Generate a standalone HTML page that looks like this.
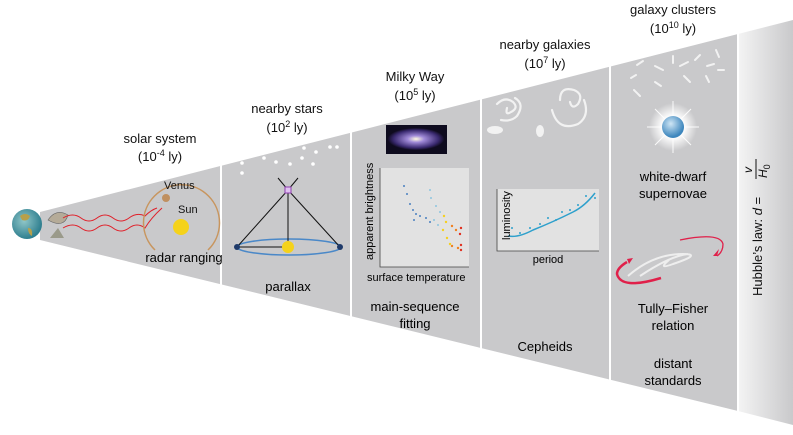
<!DOCTYPE html>
<html><head><meta charset="utf-8"><style>
html,body{margin:0;padding:0;background:#fff;}
svg{display:block;font-family:"Liberation Sans",Arial,sans-serif;}
</style></head><body>
<svg width="793" height="435" viewBox="0 0 793 435" xmlns="http://www.w3.org/2000/svg">
<defs>
<linearGradient id="hg" x1="0" x2="1" y1="0" y2="0"><stop offset="0" stop-color="#f4f4f4"/><stop offset="1" stop-color="#c9c9cb"/></linearGradient>
<radialGradient id="earth" cx="0.4" cy="0.4" r="0.6"><stop offset="0" stop-color="#8fc6c8"/><stop offset="1" stop-color="#2f7f8f"/></radialGradient>
<radialGradient id="sn" cx="0.5" cy="0.5" r="0.5"><stop offset="0" stop-color="#fff"/><stop offset="0.5" stop-color="#fff" stop-opacity="0.9"/><stop offset="1" stop-color="#fff" stop-opacity="0"/></radialGradient>
<radialGradient id="snc" cx="0.4" cy="0.35" r="0.6"><stop offset="0" stop-color="#cfe6f5"/><stop offset="1" stop-color="#3d86bd"/></radialGradient>
<radialGradient id="mw" cx="0.5" cy="0.5" r="0.5"><stop offset="0" stop-color="#fffbe0"/><stop offset="0.3" stop-color="#a08ad8"/><stop offset="0.8" stop-color="#3a2a70"/><stop offset="1" stop-color="#120d25"/></radialGradient>
</defs>
<polygon points="40,212 738,34 738,411 40,240" fill="#c9c9cb"/>
<polygon points="738,34 793,20 793,425 738,411" fill="url(#hg)"/>
<g stroke="#fff" stroke-width="2">
<line x1="221" y1="163" x2="221" y2="286"/>
<line x1="351" y1="130" x2="351" y2="318"/>
<line x1="481" y1="97" x2="481" y2="350"/>
<line x1="610" y1="64" x2="610" y2="382"/>
<line x1="738" y1="33" x2="738" y2="412"/>
</g>
<g font-size="13" text-anchor="middle" fill="#111">
<text x="160" y="143">solar system</text>
<text x="160" y="161">(10<tspan dy="-5" font-size="9">-4</tspan><tspan dy="5"> ly)</tspan></text>
<text x="287" y="113">nearby stars</text>
<text x="287" y="132">(10<tspan dy="-5" font-size="9">2</tspan><tspan dy="5"> ly)</tspan></text>
<text x="415" y="81">Milky Way</text>
<text x="415" y="100">(10<tspan dy="-5" font-size="9">5</tspan><tspan dy="5"> ly)</tspan></text>
<text x="545" y="49">nearby galaxies</text>
<text x="545" y="68">(10<tspan dy="-5" font-size="9">7</tspan><tspan dy="5"> ly)</tspan></text>
<text x="673" y="14">galaxy clusters</text>
<text x="673" y="33">(10<tspan dy="-5" font-size="9">10</tspan><tspan dy="5"> ly)</tspan></text>
</g>
<circle cx="27" cy="224" r="15" fill="url(#earth)"/>
<path d="M20,216 q5,-4 10,0 q-2,6 -8,4z M28,228 q5,0 4,8 q-4,-2 -4,-8z" fill="#b7a04a"/>
<path d="M50,238 l8,-10 l6,10z" fill="#9a9a8a"/>
<path d="M48,220 q8,-12 20,-5 q-4,14 -20,5z" fill="#b5ab98" stroke="#666" stroke-width="0.6"/>
<path d="M63,218 q10,-6 18,0 q8,6 16,0 q8,-6 16,0 q8,6 16,0 q8,-6 16,-2 q6,-6 12,-8 M63,228 q10,-6 18,0 q8,6 16,0 q8,-6 16,0 q8,6 16,0 q8,-6 16,0 q6,-10 17,-20" fill="none" stroke="#e0202a" stroke-width="1"/>
<path d="M155,250 A38,38 0 1 1 208,250" fill="none" stroke="#c8955e" stroke-width="1.5"/>
<circle cx="166" cy="198" r="4" fill="#c09060"/>
<circle cx="181" cy="227" r="8" fill="#f5d21a"/>
<g font-size="11" fill="#111"><text x="164" y="189">Venus</text><text x="178" y="213">Sun</text></g>
<text x="184" y="262" font-size="13" text-anchor="middle">radar ranging</text>
<g fill="#fff"><circle cx="242" cy="163" r="1.8"/><circle cx="242" cy="173" r="1.8"/><circle cx="264" cy="158" r="1.8"/><circle cx="276" cy="162" r="1.8"/><circle cx="290" cy="164" r="1.8"/><circle cx="302" cy="158" r="1.8"/><circle cx="304" cy="148" r="1.8"/><circle cx="316" cy="152" r="1.8"/><circle cx="313" cy="164" r="1.8"/><circle cx="330" cy="147" r="1.8"/><circle cx="337" cy="147" r="1.8"/></g>
<ellipse cx="289" cy="247" rx="52" ry="8" fill="none" stroke="#4a88c8" stroke-width="1.5"/>
<g stroke="#111" stroke-width="1"><line x1="288" y1="190" x2="237" y2="247"/><line x1="288" y1="190" x2="340" y2="247"/><line x1="288" y1="190" x2="288" y2="247"/><line x1="237" y1="247" x2="288" y2="247"/><line x1="288" y1="190" x2="278" y2="178"/><line x1="288" y1="190" x2="298" y2="178"/></g>
<rect x="285" y="187" width="6" height="6" fill="#e0c0f0" stroke="#9040b0"/>
<circle cx="288" cy="247" r="6" fill="#f5d21a"/>
<circle cx="237" cy="247" r="3" fill="#1e3a6a"/><circle cx="340" cy="247" r="3" fill="#1e3a6a"/>
<text x="288" y="291" font-size="13" text-anchor="middle">parallax</text>
<rect x="386" y="125" width="61" height="29" fill="#0e0b1e"/>
<ellipse cx="416" cy="139" rx="28" ry="11" fill="url(#mw)"/>
<rect x="380" y="168" width="89" height="99" fill="#e2e2e2"/>
<path d="M380,168 V267 H469" fill="none" stroke="#444" stroke-width="0.8"/>
<g fill="#4a80c0"><circle cx="404" cy="186" r="1"/><circle cx="407" cy="194" r="1"/><circle cx="410" cy="204" r="1"/><circle cx="413" cy="210" r="1"/><circle cx="416" cy="214" r="1"/><circle cx="420" cy="216" r="1"/><circle cx="414" cy="220" r="1"/><circle cx="426" cy="218" r="1"/><circle cx="430" cy="222" r="1"/></g>
<g fill="#8ec5e0"><circle cx="430" cy="190" r="1"/><circle cx="431" cy="198" r="1"/><circle cx="436" cy="206" r="1"/><circle cx="440" cy="212" r="1"/><circle cx="434" cy="220" r="1"/><circle cx="438" cy="225" r="1"/></g>
<g fill="#f5d020"><circle cx="444" cy="216" r="1.2"/><circle cx="446" cy="222" r="1.2"/><circle cx="443" cy="230" r="1.2"/><circle cx="447" cy="238" r="1.2"/><circle cx="450" cy="244" r="1.2"/></g>
<g fill="#f08020"><circle cx="452" cy="226" r="1.2"/><circle cx="456" cy="230" r="1.2"/><circle cx="452" cy="246" r="1.2"/><circle cx="458" cy="248" r="1.2"/></g>
<g fill="#e03020"><circle cx="461" cy="228" r="1.2"/><circle cx="460" cy="234" r="1.2"/><circle cx="461" cy="245" r="1.2"/><circle cx="461" cy="250" r="1.2"/></g>
<text transform="translate(373,260) rotate(-90)" font-size="11">apparent brightness</text>
<text x="367" y="281" font-size="11">surface temperature</text>
<text x="415" y="311" font-size="13" text-anchor="middle">main-sequence</text>
<text x="415" y="328" font-size="13" text-anchor="middle">fitting</text>
<g fill="none" stroke="#f2f2f2" stroke-width="2.2" stroke-linecap="round">
<path d="M497,104 q8,-8 16,-2 q6,6 -2,10 q-6,4 -4,-4 M515,98 q10,6 2,18 q-6,6 -16,4"/>
<path d="M560,100 q0,-14 14,-10 q10,4 4,14 q-6,6 -8,-2 M552,110 q6,22 26,14 q12,-8 6,-24"/>
</g>
<ellipse cx="495" cy="130" rx="8" ry="4" fill="#f2f2f2"/>
<ellipse cx="540" cy="131" rx="4" ry="6" fill="#f2f2f2"/>
<rect x="497" y="189" width="102" height="62" fill="#e2e2e2"/>
<path d="M497,189 V251 H599" fill="none" stroke="#444" stroke-width="0.8"/>
<path d="M508,236 q10,2 25,-6 q20,-8 40,-18 q12,-6 22,-19" fill="none" stroke="#2ea0cc" stroke-width="1.5"/>
<g fill="#2ea0cc"><circle cx="512" cy="228" r="1"/><circle cx="520" cy="233" r="1"/><circle cx="530" cy="228" r="1"/><circle cx="540" cy="224" r="1"/><circle cx="548" cy="218" r="1"/><circle cx="556" cy="220" r="1"/><circle cx="562" cy="212" r="1"/><circle cx="570" cy="210" r="1"/><circle cx="578" cy="205" r="1"/><circle cx="586" cy="196" r="1"/><circle cx="595" cy="198" r="1"/></g>
<text transform="translate(510,240) rotate(-90)" font-size="11">luminosity</text>
<text x="548" y="263" font-size="11" text-anchor="middle">period</text>
<text x="545" y="351" font-size="13" text-anchor="middle">Cepheids</text>
<g stroke="#f2f2f2" stroke-width="2" stroke-linecap="round">
<line x1="637" y1="65" x2="643" y2="61"/><line x1="655" y1="66" x2="663" y2="70"/><line x1="673" y1="56" x2="673" y2="63"/><line x1="680" y1="66" x2="688" y2="62"/><line x1="695" y1="60" x2="700" y2="55"/><line x1="716" y1="50" x2="719" y2="57"/><line x1="707" y1="66" x2="714" y2="64"/><line x1="718" y1="70" x2="724" y2="70"/><line x1="631" y1="78" x2="636" y2="75"/><line x1="655" y1="82" x2="661" y2="86"/><line x1="684" y1="76" x2="690" y2="82"/><line x1="706" y1="76" x2="709" y2="82"/><line x1="634" y1="90" x2="640" y2="96"/>
</g>
<circle cx="673" cy="127" r="24" fill="url(#sn)"/>
<g stroke="#fff" stroke-width="1" opacity="0.9"><line x1="673" y1="101" x2="673" y2="153"/><line x1="647" y1="127" x2="699" y2="127"/><line x1="655" y1="109" x2="691" y2="145"/><line x1="691" y1="109" x2="655" y2="145"/></g>
<circle cx="673" cy="127" r="11" fill="url(#snc)"/>
<text x="673" y="181" font-size="13" text-anchor="middle">white-dwarf</text>
<text x="673" y="198" font-size="13" text-anchor="middle">supernovae</text>
<g fill="none" stroke="#eee" stroke-width="2"><path d="M628,276 q25,-22 55,-22 q20,0 -10,10 q-16,6 -4,-4 M640,276 q30,-20 48,-22"/></g>
<path d="M680,240 q40,-8 43,4 q0,8 -6,12" fill="none" stroke="#e0204a" stroke-width="1.3"/>
<path d="M717,256 l-4,0 l6,-7z" fill="#e0204a"/>
<path d="M661,278 q-40,12 -44,-4 q0,-6 10,-12" fill="none" stroke="#e0204a" stroke-width="2.5"/>
<path d="M633,258 l-4,6 l-2,-5z" fill="#e0204a"/>
<text x="673" y="313" font-size="13" text-anchor="middle">Tully–Fisher</text>
<text x="673" y="330" font-size="13" text-anchor="middle">relation</text>
<text x="673" y="368" font-size="13" text-anchor="middle">distant</text>
<text x="673" y="385" font-size="13" text-anchor="middle">standards</text>
<g transform="translate(762,296) rotate(-90)" font-size="13" fill="#111">
<text x="0" y="0">Hubble’s law: <tspan font-style="italic">d</tspan> =</text>
<text x="126" y="-10" font-style="italic" text-anchor="middle" font-size="12">v</text>
<line x1="117" y1="-6" x2="137" y2="-6" stroke="#111" stroke-width="1"/>
<text x="118" y="5" font-style="italic" font-size="12">H<tspan font-style="normal" font-size="9" dy="3">0</tspan></text>
</g>
</svg>
</body></html>
